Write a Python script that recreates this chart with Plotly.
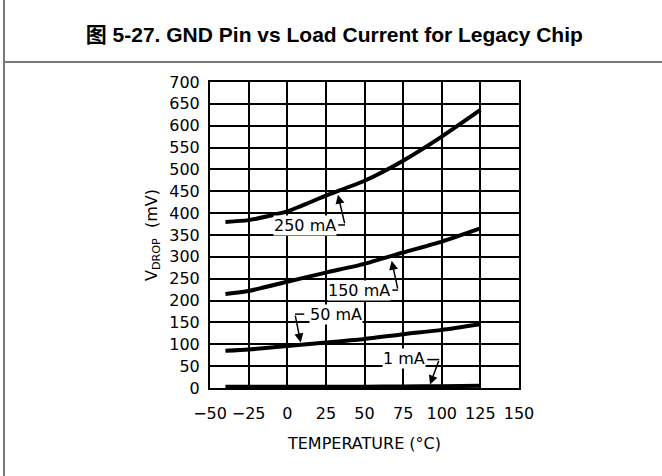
import plotly.graph_objects as go

temps = [-40, -25, 0, 25, 50, 75, 100, 125]
v_250mA = [380, 384, 404, 440, 474, 520, 575, 636]
v_150mA = [215, 222, 243, 264, 284, 310, 335, 365]
v_50mA = [85, 88, 96, 104, 112, 123, 133, 146]
v_1mA = [3, 3, 3, 3, 3, 3.5, 4, 5]

x_ticks = [-50, -25, 0, 25, 50, 75, 100, 125, 150]
y_ticks = list(range(0, 701, 50))

title_text = "<b>图 5-27. GND Pin vs Load Current for Legacy Chip</b>"
x_title = "TEMPERATURE (°C)"
y_title = "V<sub>DROP</sub>  (mV)"

FONT = "DejaVu Sans"

fig = go.Figure()
for ys in [v_250mA, v_150mA, v_50mA, v_1mA]:
    fig.add_trace(go.Scatter(x=temps, y=ys, mode="lines",
                             line=dict(color="black", width=4, shape="spline", smoothing=0.6),
                             showlegend=False, hoverinfo="skip"))

# labels: (text, text_x, text_y, seg_x0, seg_x1, seg_y, tip_x, tip_y, corner_x)
labels = [
    ("250 mA", 11.8, 371, 33.0, 37.4, 373, 32.8, 442, 37.4),
    ("150 mA", 46.4, 223, 68.0, 71.7, 224, 67.6, 291, 71.7),
    ("50 mA", 31.6, 169, 5.0, 11.0, 169, 8.7, 104, 5.0),
    ("1 mA", 75.6, 68, 90.6, 98.4, 65, 92.4, 8, 98.4),
]
for txt, tx, ty, sx0, sx1, sy, tipx, tipy, cx in labels:
    fig.add_shape(type="line", x0=sx0, x1=sx1, y0=sy, y1=sy,
                  line=dict(color="black", width=1.5))
    fig.add_annotation(x=tx, y=ty, text=txt, showarrow=False,
                       bgcolor="white", borderpad=0,
                       font=dict(family=FONT, size=16, color="black"))
    fig.add_annotation(x=tipx, y=tipy, ax=cx, ay=sy, axref="x", ayref="y",
                       text="", showarrow=True, arrowhead=2, arrowsize=1.2,
                       arrowwidth=1.5, arrowcolor="black")

# frame decorations (outside plot)
fig.add_shape(type="line", xref="paper", yref="paper",
              x0=(4 - 210) / 309, x1=(662 - 210) / 309,
              y0=(388 - 62) / 306, y1=(388 - 62) / 306,
              line=dict(color="#7a7a7a", width=2))
fig.add_shape(type="line", xref="paper", yref="paper",
              x0=(4 - 210) / 309, x1=(4 - 210) / 309,
              y0=(388 - 0) / 306, y1=(388 - 476) / 306,
              line=dict(color="#7a7a7a", width=2))

fig.update_layout(
    width=662, height=476,
    margin=dict(l=210, r=143, t=82, b=88),
    paper_bgcolor="white", plot_bgcolor="white",
    title=dict(text=title_text, x=0.505, xanchor="center",
               y=1 - 35 / 476, yanchor="middle", yref="container",
               font=dict(family="Liberation Sans, Arial, Noto Sans CJK SC", size=21, color="black")),
    font=dict(family=FONT, size=16, color="black"),
)
fig.update_xaxes(range=[-50, 150], tickvals=x_ticks, showgrid=True,
                 gridcolor="black", gridwidth=1.5, showline=True, linecolor="black",
                 linewidth=2, mirror=True, zeroline=False, ticks="",
                 ticklabelstandoff=10,
                 title=dict(text=x_title, standoff=16, font=dict(family=FONT, size=16)))
fig.update_yaxes(range=[0, 700], tickvals=y_ticks, showgrid=True,
                 gridcolor="black", gridwidth=1.5, showline=True, linecolor="black",
                 linewidth=2, mirror=True, zeroline=False, ticks="",
                 ticklabelstandoff=5,
                 title=dict(text=y_title, standoff=8, font=dict(family=FONT, size=16)))

fig.write_html("out.html", config={"displayModeBar": False},
               post_script="document.body.style.margin='0px';document.body.style.overflow='hidden';")
